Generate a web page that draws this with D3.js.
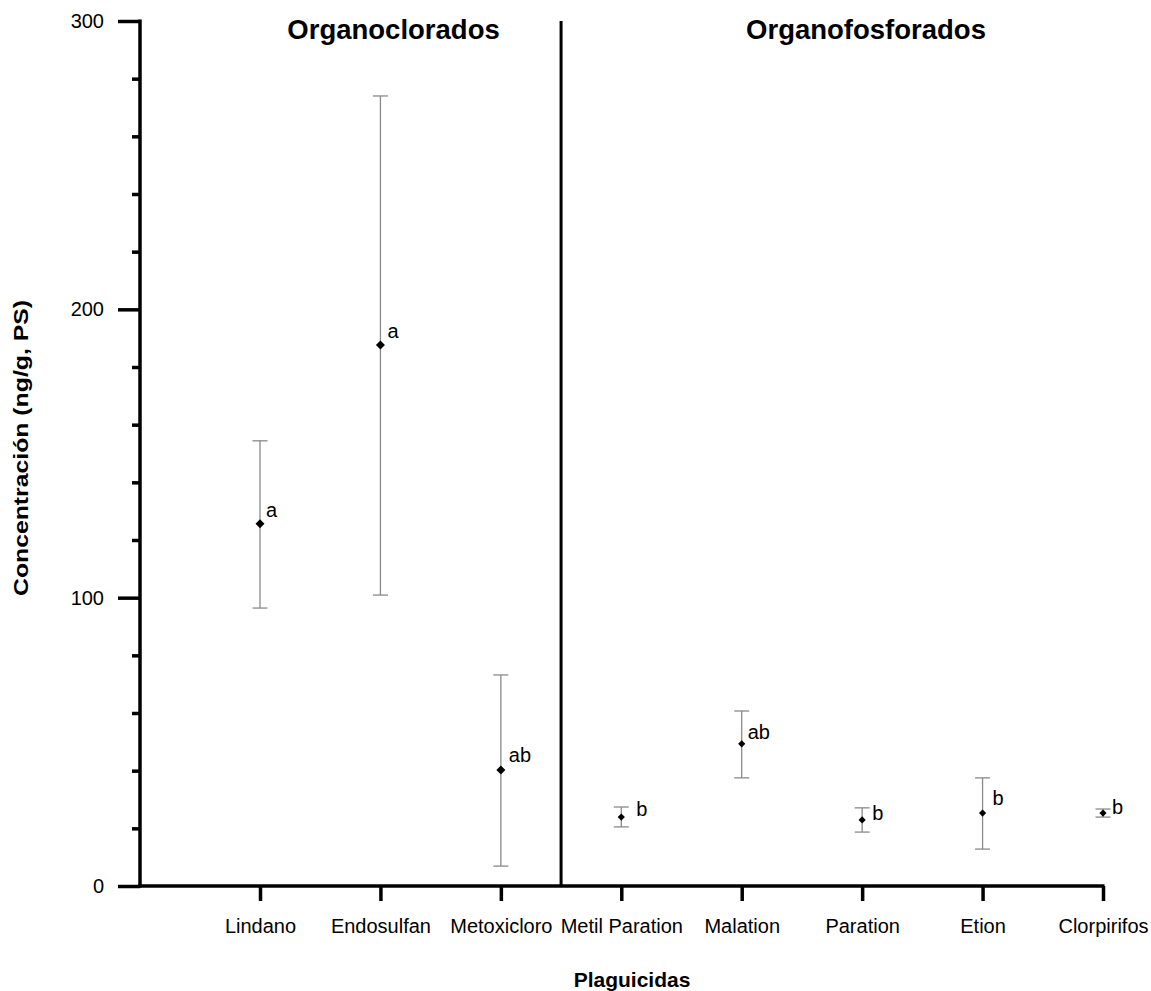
<!DOCTYPE html>
<html>
<head>
<meta charset="utf-8">
<script src="https://cdn.jsdelivr.net/npm/d3@7"></script>
<style>
  html, body { margin: 0; padding: 0; background: #fff; }
  svg { display: block; font-family: Arial, "Liberation Sans", Helvetica, sans-serif; }
</style>
</head>
<body>
<svg id="chart" width="1151" height="991"></svg>
<script>
// ---- data ----
const categories = ["Lindano", "Endosulfan", "Metoxicloro", "Metil Paration", "Malation", "Paration", "Etion", "Clorpirifos"];
const meanValues  = [125.6, 187.6, 40.2, 23.9, 49.3, 22.9, 25.3, 25.3];
const upperValues = [154.4, 274.0, 73.2, 27.4, 60.7, 27.1, 37.5, 26.7];
const lowerValues = [ 96.4, 100.9,  6.9, 20.5, 37.5, 18.7, 12.8, 23.9];
const letters     = ["a", "a", "ab", "b", "ab", "b", "b", "b"];
const groupNames  = ["Organoclorados", "Organofosforados"];
const groupOf     = [0, 0, 0, 1, 1, 1, 1, 1];
const yMajorTicks = [0, 100, 200, 300];
const yMinorTicks = [20, 40, 60, 80, 120, 140, 160, 180, 220, 240, 260, 280];
// layout nudges for the significance letters (dx, dy in px)
const letterNudge = [[6, -7], [7, -7], [8, -8], [15, -1], [6, -5], [10, 0], [10, -8], [9, 1]];

(function draw() {
  const svg = d3.select("#chart");
  const plotLeft = 140, plotBottom = 886, plotTop = 21;
  const firstX = 260, lastX = 1103;

  const y = d3.scaleLinear().domain([0, 300]).range([plotBottom, plotTop]);
  const x = d3.scalePoint().domain(categories).range([firstX, lastX]);

  const axisColor = "#000";
  const fontFam = "Arial, 'Liberation Sans', sans-serif";

  // Y axis: major ticks
  const yAxisMajor = d3.axisLeft(y).tickValues(yMajorTicks).tickSize(22).tickPadding(14).tickFormat(d3.format("d"));
  const gy = svg.append("g").attr("transform", `translate(${plotLeft},0)`).call(yAxisMajor);
  gy.select(".domain").remove();
  gy.selectAll(".tick line").attr("stroke", axisColor).attr("stroke-width", 3.5);
  gy.selectAll(".tick text").attr("font-size", 20).attr("fill", "#000").attr("font-family", fontFam);

  // Y axis: minor ticks
  const yAxisMinor = d3.axisLeft(y).tickValues(yMinorTicks).tickSize(8).tickFormat("");
  const gym = svg.append("g").attr("transform", `translate(${plotLeft},0)`).call(yAxisMinor);
  gym.select(".domain").remove();
  gym.selectAll(".tick line").attr("stroke", axisColor).attr("stroke-width", 3.5);

  // X axis
  const xAxis = d3.axisBottom(x).tickSize(15).tickPadding(18);
  const gx = svg.append("g").attr("transform", `translate(0,${plotBottom})`).call(xAxis);
  gx.select(".domain").remove();
  gx.selectAll(".tick line").attr("stroke", axisColor).attr("stroke-width", 3.5);
  gx.selectAll(".tick text").attr("font-size", 20).attr("fill", "#000").attr("font-family", fontFam);

  // axis lines
  svg.append("line").attr("x1", plotLeft).attr("x2", plotLeft).attr("y1", y(300) - 1.5).attr("y2", plotBottom + 1.5)
    .attr("stroke", axisColor).attr("stroke-width", 3.5);
  svg.append("line").attr("x1", plotLeft - 1.5).attr("x2", lastX + 1.5).attr("y1", plotBottom).attr("y2", plotBottom)
    .attr("stroke", axisColor).attr("stroke-width", 3.5);

  // divider between groups
  const divX = (x(categories[2]) + x(categories[3])) / 2;
  svg.append("line").attr("x1", divX).attr("x2", divX).attr("y1", y(300)).attr("y2", plotBottom)
    .attr("stroke", axisColor).attr("stroke-width", 3);

  // group titles
  const groupCenters = [(plotLeft + divX) / 2 + 43, (divX + lastX) / 2 + 34];
  svg.selectAll("text.group").data(groupNames).join("text")
    .attr("class", "group")
    .attr("x", (d, i) => groupCenters[i])
    .attr("y", 39)
    .attr("text-anchor", "middle")
    .attr("font-size", 27.5)
    .attr("font-weight", "bold")
    .text(d => d);

  const rows = categories.map((c, i) => ({
    c, i, mean: meanValues[i], hi: upperValues[i], lo: lowerValues[i],
    letter: letters[i], g: groupOf[i]
  }));

  // error bars
  const errColor = "#8a8a8a";
  const capHalf = 7.5;
  const eb = svg.append("g");
  eb.selectAll("line.stem").data(rows).join("line").attr("class", "stem")
    .attr("x1", d => x(d.c)).attr("x2", d => x(d.c))
    .attr("y1", d => y(d.hi)).attr("y2", d => y(d.lo))
    .attr("stroke", errColor).attr("stroke-width", 1.3);
  eb.selectAll("line.capHi").data(rows).join("line").attr("class", "capHi")
    .attr("x1", d => x(d.c) - capHalf).attr("x2", d => x(d.c) + capHalf)
    .attr("y1", d => y(d.hi)).attr("y2", d => y(d.hi))
    .attr("stroke", errColor).attr("stroke-width", 1.3);
  eb.selectAll("line.capLo").data(rows).join("line").attr("class", "capLo")
    .attr("x1", d => x(d.c) - capHalf).attr("x2", d => x(d.c) + capHalf)
    .attr("y1", d => y(d.lo)).attr("y2", d => y(d.lo))
    .attr("stroke", errColor).attr("stroke-width", 1.3);

  // diamond markers
  const diamond = r => `M0,${-r}L${r},0L0,${r}L${-r},0Z`;
  svg.append("g").selectAll("path").data(rows).join("path")
    .attr("transform", d => `translate(${x(d.c)},${y(d.mean)})`)
    .attr("d", d => diamond(d.g === 0 ? 4.5 : 3.6))
    .attr("fill", "#000");

  // significance letters
  svg.append("g").selectAll("text").data(rows).join("text")
    .attr("x", d => x(d.c) + letterNudge[d.i][0])
    .attr("y", d => y(d.mean) + letterNudge[d.i][1])
    .attr("font-size", 20)
    .attr("fill", "#000")
    .text(d => d.letter);

  // axis titles
  svg.append("text")
    .attr("x", 632).attr("y", 987)
    .attr("text-anchor", "middle")
    .attr("font-size", 21).attr("font-weight", "bold")
    .text("Plaguicidas");

  svg.append("text")
    .attr("transform", `translate(28,448) rotate(-90)`)
    .attr("text-anchor", "middle")
    .attr("font-size", 20).attr("font-weight", "bold")
    .attr("textLength", 296).attr("lengthAdjust", "spacingAndGlyphs")
    .text("Concentración (ng/g, PS)");
})();
</script>
</body>
</html>
